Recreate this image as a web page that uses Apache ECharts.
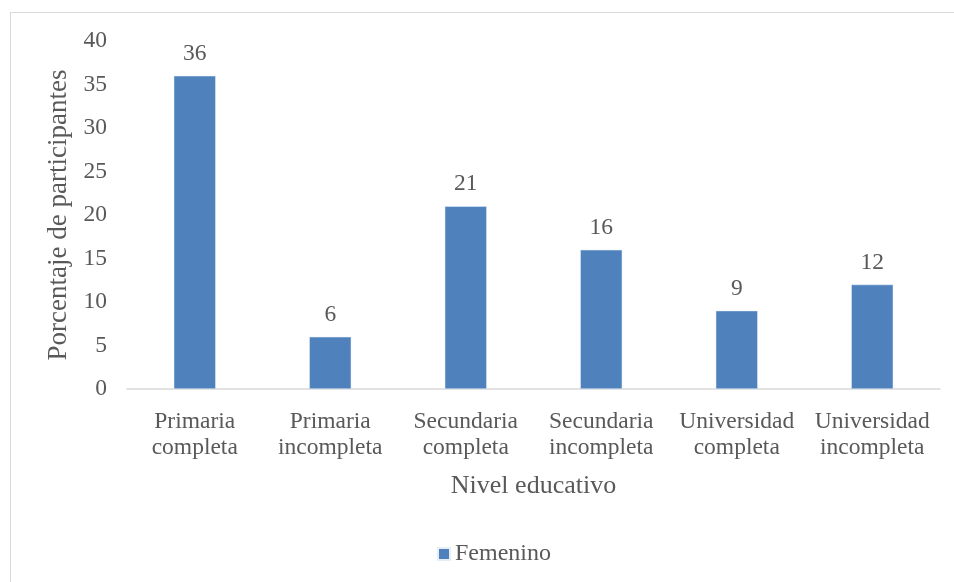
<!DOCTYPE html>
<html>
<head>
<meta charset="utf-8">
<script src="https://cdn.jsdelivr.net/npm/echarts@6/dist/echarts.min.js"></script>
<style>
  html, body { margin: 0; padding: 0; background: #fff; }
  #frame { position: absolute; left: 10px; top: 12px; width: 960px; height: 600px; border: 1px solid #d9d9d9; box-sizing: border-box; }
  #chart { position: absolute; left: 0; top: 0; width: 954px; height: 582px; }
</style>
</head>
<body>
<div id="frame"></div>
<div id="chart"></div>
<script>
const categories = [
  'Primaria\ncompleta',
  'Primaria\nincompleta',
  'Secundaria\ncompleta',
  'Secundaria\nincompleta',
  'Universidad\ncompleta',
  'Universidad\nincompleta'
];
const femenino = [36, 6, 21, 16, 9, 12];
const yTicks = { min: 0, max: 40, interval: 5 };

const FONT = '"Liberation Serif", "Times New Roman", serif';
const TEXT = '#595959';

const chart = echarts.init(document.getElementById('chart'), null, { renderer: 'canvas' });
chart.setOption({
  animation: false,
  textStyle: { fontFamily: FONT },
  grid: { left: 127, right: 14, top: 41, bottom: 193, containLabel: false },
  legend: {
    top: 537,
    left: 432,
    itemWidth: 12,
    itemHeight: 12,
    itemGap: 10,
    icon: 'rect',
    textStyle: { fontFamily: FONT, fontSize: 24, color: TEXT },
    data: ['Femenino']
  },
  xAxis: {
    type: 'category',
    data: categories,
    name: 'Nivel educativo',
    nameLocation: 'middle',
    nameGap: 84,
    nameTextStyle: { fontFamily: FONT, fontSize: 26, color: TEXT },
    axisLine: { lineStyle: { color: '#d9d9d9', width: 1.5 } },
    axisTick: { show: false },
    axisLabel: { fontFamily: FONT, fontSize: 23.5, color: TEXT, lineHeight: 26, margin: 20, interval: 0 }
  },
  yAxis: {
    type: 'value',
    min: yTicks.min,
    max: yTicks.max,
    interval: yTicks.interval,
    name: 'Porcentaje de participantes',
    nameLocation: 'middle',
    nameGap: 50,
    nameTextStyle: { fontFamily: FONT, fontSize: 27, color: TEXT },
    axisLine: { show: false },
    axisTick: { show: false },
    splitLine: { show: false },
    axisLabel: { fontFamily: FONT, fontSize: 23.5, color: TEXT, margin: 20 }
  },
  series: [{
    name: 'Femenino',
    type: 'bar',
    data: femenino,
    barWidth: 42,
    itemStyle: { color: '#4f81bd', borderColor: '#e6eef8', borderWidth: 0.5 },
    label: {
      show: true,
      position: 'top',
      distance: 10,
      fontFamily: FONT,
      fontSize: 23.5,
      color: TEXT
    }
  }]
});
</script>
</body>
</html>
